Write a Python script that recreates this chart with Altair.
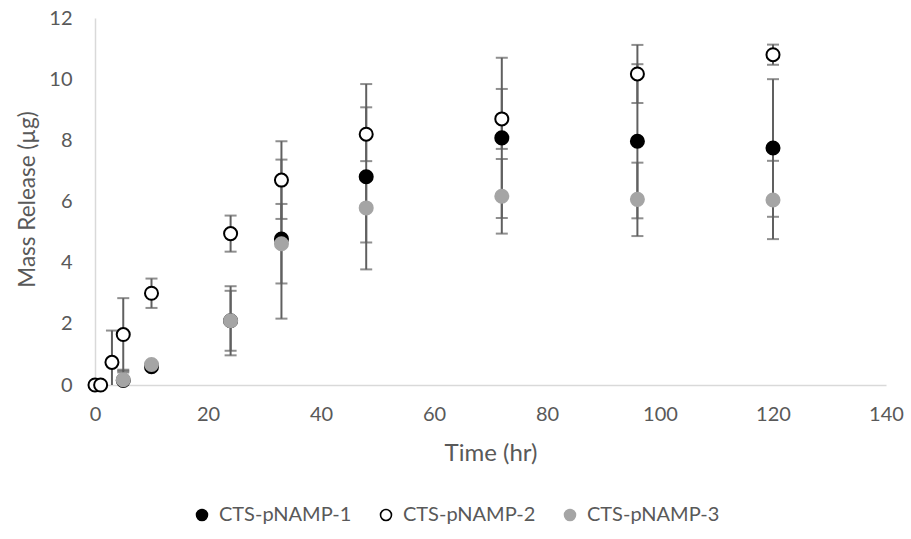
import altair as alt
import pandas as pd

# ---- data ----
series_names = ["CTS-pNAMP-1", "CTS-pNAMP-2", "CTS-pNAMP-3"]

t1 = [5, 10, 24, 33, 48, 72, 96, 120]
m1 = [0.15, 0.60, 2.10, 4.77, 6.81, 8.08, 7.97, 7.75]
e1 = [0.35, 0.08, 1.13, 2.60, 3.03, 2.62, 2.52, 2.25]

t2 = [0, 1, 3, 5, 10, 24, 33, 48, 72, 96, 120]
m2 = [0.0, 0.0, 0.74, 1.65, 3.00, 4.95, 6.70, 8.20, 8.70, 10.17, 10.80]
e2 = [0.0, 0.0, 1.04, 1.19, 0.48, 0.59, 1.27, 0.88, 0.98, 0.95, 0.33]

t3 = [5, 10, 24, 33, 48, 72, 96, 120]
m3 = [0.17, 0.67, 2.10, 4.62, 5.79, 6.17, 6.07, 6.05]
e3 = [0.24, 0.08, 0.98, 1.30, 1.13, 1.22, 1.20, 1.28]

x_ticks = [0, 20, 40, 60, 80, 100, 120, 140]
y_ticks = [0, 2, 4, 6, 8, 10, 12]

rows = []
for name, ts, ms, es in zip(series_names, [t1, t2, t3], [m1, m2, m3], [e1, e2, e3]):
    for t, m, e in zip(ts, ms, es):
        rows.append({"series": name, "t": t, "m": m, "lo": m - e, "hi": m + e, "has_err": e > 0})
df = pd.DataFrame(rows)

FONT = "Lato"
TXT = "#595959"
BAR = "#606060"

x_enc = alt.X("t:Q", scale=alt.Scale(domain=[0, 140], nice=False),
              axis=alt.Axis(values=x_ticks, title="Time (hr)", grid=False, ticks=False, tickSize=0,
                            domainColor="#d9d9d9", domainWidth=1.5, labelPadding=19, labelFlush=False,
                            labelFont=FONT, labelFontSize=20, labelColor=TXT,
                            titleFont=FONT, titleFontSize=24, titleColor=TXT, titleFontWeight="normal",
                            titleY=68, titleBaseline="middle"))
y_scale = alt.Scale(domain=[0, 12], nice=False)
y_axis = alt.Axis(values=y_ticks, title="Mass Release (µg)", grid=False, ticks=False, tickSize=0,
                  domainColor="#d9d9d9", domainWidth=1.5, labelPadding=23, labelFlush=False,
                  labelFont=FONT, labelFontSize=20, labelColor=TXT,
                  titleFont=FONT, titleFontSize=22.5, titleColor=TXT, titleFontWeight="normal",
                  titleX=-68, titleY=181, titleBaseline="middle")

base = alt.Chart(df)
err = base.transform_filter("datum.has_err")

bars = err.mark_rule(color=BAR, strokeWidth=2, clip=True).encode(
    x=x_enc,
    y=alt.Y("lo:Q", scale=y_scale, axis=y_axis),
    y2="hi:Q",
)
cap_hi = err.mark_tick(color=BAR, thickness=2, size=12, orient="horizontal", clip=True).encode(
    x="t:Q", y=alt.Y("hi:Q"))
cap_lo = err.mark_tick(color=BAR, thickness=2, size=12, orient="horizontal", clip=True).encode(
    x="t:Q", y=alt.Y("lo:Q"))

legend = alt.Legend(title=None, orient="none", direction="horizontal", legendX=97, legendY=487,
                    labelFont=FONT, labelFontSize=20, labelColor=TXT, symbolSize=120,
                    symbolStrokeWidth=1.6, labelOffset=7, columnPadding=24, symbolType="circle")

points = base.mark_point(shape="circle", filled=True, size=170, strokeWidth=2, opacity=1).encode(
    x="t:Q",
    y=alt.Y("m:Q"),
    fill=alt.Fill("series:N", scale=alt.Scale(domain=series_names, range=["#000000", "#ffffff", "#a5a5a5"]),
                  legend=legend),
    stroke=alt.Stroke("series:N", scale=alt.Scale(domain=series_names, range=["#000000", "#000000", "#a5a5a5"]),
                      legend=legend),
    order=alt.Order("series:N"),
)

chart = alt.layer(bars, cap_hi, cap_lo, points).properties(
    width=791, height=367,
    autosize=alt.AutoSizeParams(type="none"),
    padding={"left": 95, "top": 18, "right": 25, "bottom": 154},
).configure(background="white").configure_view(stroke=None)

chart.save("out.html", embed_options={"renderer": "svg", "actions": False})
